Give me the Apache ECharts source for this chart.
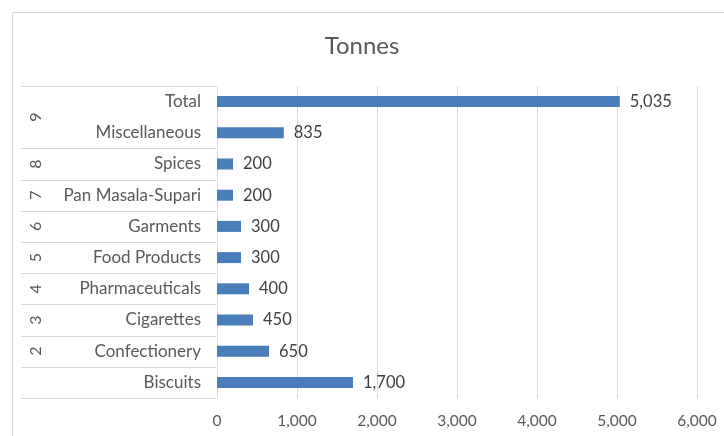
<!DOCTYPE html>
<html><head><meta charset="utf-8">
<script src="https://cdn.jsdelivr.net/npm/echarts@6/dist/echarts.min.js"></script>
<style>html,body{margin:0;padding:0;background:#fff}#c{width:724px;height:436px}</style>
</head><body><div id="c"></div>
<script>
const categories = ['Total','Miscellaneous','Spices','Pan Masala-Supari','Garments','Food Products','Pharmaceuticals','Cigarettes','Confectionery','Biscuits'];
const tonnes = [5035,835,200,200,300,300,400,450,650,1700];
const groupLabels = ['9','8','7','6','5','4','3','2',''];
const groupSizes = [2,1,1,1,1,1,1,1,1];
const xMin = 0, xMax = 6000, xStep = 1000;

// derived group geometry (in row units)
const groupStarts = [];
let acc = 0;
groupSizes.forEach(s => { groupStarts.push(acc); acc += s; });
const boundaries = groupStarts.concat([acc]);
const groupCentres = groupStarts.map((s, i) => s + groupSizes[i] / 2);

const FONT = 'Lato';
const fmt = v => Number(v).toLocaleString('en-US');
const chart = echarts.init(document.getElementById('c'), null, {renderer: 'canvas'});
chart.setOption({
  animation: false,
  backgroundColor: '#fff',
  textStyle: {fontFamily: FONT},
  title: {text: 'Tonnes', left: 'center', top: 29,
    textStyle: {fontFamily: FONT, fontSize: 24, fontWeight: 'normal', color: '#595959'}},
  graphic: [{type: 'rect', silent: true, shape: {x: 12.5, y: 12.5, width: 800, height: 800},
    style: {fill: 'none', stroke: '#d9d9d9', lineWidth: 1}}],
  grid: [
    {left: 217, right: 27, top: 86, bottom: 38, containLabel: false},
    {left: 21, width: 195, top: 86, bottom: 38, containLabel: false}
  ],
  xAxis: [
    {gridIndex: 0, type: 'value', min: xMin, max: xMax, interval: xStep,
      axisLine: {show: false}, axisTick: {show: false},
      splitLine: {lineStyle: {color: '#d9d9d9', width: 1}},
      axisLabel: {color: '#595959', fontSize: 15.5, margin: 15, fontFamily: FONT, formatter: fmt}},
    {gridIndex: 1, type: 'value', min: 0, max: 1, show: false}
  ],
  yAxis: [
    {gridIndex: 0, type: 'category', data: categories, inverse: true,
      axisLine: {show: true, lineStyle: {color: '#d9d9d9'}}, axisTick: {show: false},
      splitLine: {show: false},
      axisLabel: {color: '#595959', fontSize: 17, margin: 16, fontFamily: FONT, padding: [3, 0, 0, 0]}},
    {gridIndex: 1, type: 'value', min: 0, max: categories.length, interval: 0.5, inverse: true,
      axisLine: {show: false}, axisTick: {show: false}, splitLine: {show: false},
      axisLabel: {inside: true, rotate: 90, margin: 7, color: '#595959', fontSize: 16, fontFamily: FONT,
        showMinLabel: true, showMaxLabel: true,
        formatter: v => { const i = groupCentres.findIndex(c => Math.abs(c - v) < 1e-6); return i >= 0 ? groupLabels[i] : ''; }}}
  ],
  series: [
    {type: 'bar', xAxisIndex: 0, yAxisIndex: 0, data: tonnes, barWidth: 11,
      itemStyle: {color: '#4a7ebb'},
      label: {show: true, position: 'right', distance: 10, color: '#404040', fontSize: 16.5, fontFamily: FONT,
        padding: [5, 0, 0, 0], formatter: p => fmt(p.value)}},
    {type: 'custom', xAxisIndex: 1, yAxisIndex: 1, silent: true, data: boundaries,
      renderItem: (params, api) => {
        const b = api.value(0);
        const p1 = api.coord([0, b]);
        const p2 = api.coord([1, b]);
        return {type: 'line', shape: {x1: p1[0], y1: Math.round(p1[1]) + 0.5, x2: p2[0], y2: Math.round(p2[1]) + 0.5},
          style: {stroke: '#d9d9d9', lineWidth: 1}};
      },
      encode: {y: 0}}
  ]
});
</script></body></html>
